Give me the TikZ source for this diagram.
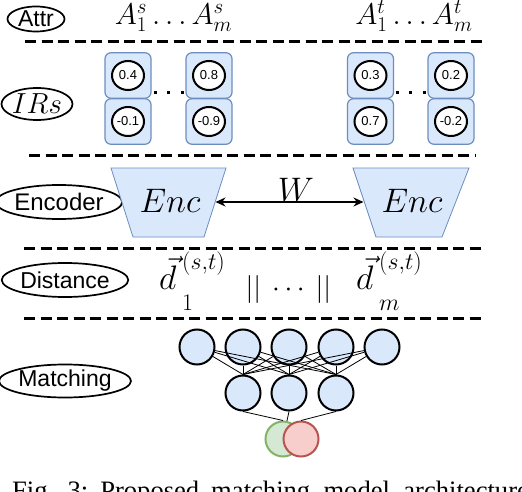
\documentclass[tikz,border=0pt]{standalone}
\usepackage{fix-cm}
\usepackage{fontspec}
\setsansfont{Liberation Sans}
\newfontfamily\capfont{Liberation Serif}
\usetikzlibrary{shapes.geometric,arrows.meta}
\definecolor{bluefill}{HTML}{DAE8FC}
\definecolor{bluedraw}{HTML}{6C8EBF}
\definecolor{greenfill}{HTML}{D5E8D4}
\definecolor{greendraw}{HTML}{82B366}
\definecolor{redfill}{HTML}{F8CECC}
\definecolor{reddraw}{HTML}{B85450}
\tikzset{
  lbl/.style={ellipse, draw, line width=1.7pt, inner sep=0pt,
    font=\sffamily\fontsize{23}{26}\selectfont},
  sepline/.style={line width=3pt, dash pattern=on 11pt off 5.5pt},
  irbox/.style={draw=bluedraw, fill=bluefill, rounded corners=6pt,
    line width=1.2pt, minimum width=46pt, minimum height=45.5pt, inner sep=0pt},
  ircirc/.style={ellipse, draw, fill=white, line width=2pt, minimum width=32pt,
    minimum height=29pt, inner sep=0pt, font=\sffamily\fontsize{13}{13}\selectfont},
  dotsline/.style={line width=3pt, dash pattern=on 3pt off 10.5pt},
  trap/.style={draw=bluedraw, fill=bluefill, line width=0.8pt},
  mathbig/.style={font=\fontsize{30}{34}\selectfont, inner sep=0pt},
  enctext/.style={font=\fontsize{34}{38}\selectfont, inner sep=0pt, anchor=base},
  disttext/.style={font=\fontsize{34}{38}\selectfont, inner sep=0pt, anchor=base west},
  neuron/.style={circle, draw, fill=bluefill, line width=2pt, minimum size=35pt, inner sep=0pt},
  outg/.style={circle, draw=greendraw, fill=greenfill, line width=2pt, minimum size=35pt, inner sep=0pt},
  outr/.style={circle, draw=reddraw, fill=redfill, line width=2pt, minimum size=35pt, inner sep=0pt},
  edge/.style={line width=0.8pt},
  dblarrow/.style={line width=1.5pt, {Stealth[length=10pt,width=9pt]}-{Stealth[length=10pt,width=9pt]}}
}
\newcommand{\lowsub}[1]{\raisebox{-13pt}{$\scriptstyle #1$}}
\newcommand{\highsup}[1]{\raisebox{-5pt}{$\scriptstyle #1$}}
\begin{document}
\begin{tikzpicture}[x=1pt,y=-1pt]
\useasboundingbox (0,0) rectangle (522,492);
\fill[white] (0,0) rectangle (522,492);

% left labels
\node[lbl, minimum width=57pt, minimum height=25pt] (attr) at (36,19) {Attr};
\node[lbl, minimum width=71pt, minimum height=32pt, font=\fontsize{29}{32}\selectfont] (irs) at (37,104) {$IRs$};
\node[lbl, minimum width=112pt, minimum height=34pt, font=\sffamily\fontsize{24}{26}\selectfont] (encl) at (59,202) {Encoder};
\node[lbl, minimum width=116pt, minimum height=34pt] (dist) at (65,280) {Distance};
\node[lbl, minimum width=116pt, minimum height=33pt] (match) at (65,381) {Matching};

% separator lines
\coordinate (s1a) at (25,42);  \coordinate (s1b) at (487,42);
\coordinate (s2a) at (29,156); \coordinate (s2b) at (475,156);
\coordinate (s3a) at (24,248); \coordinate (s3b) at (485,248);
\coordinate (s4a) at (24,318); \coordinate (s4b) at (485,318);
\draw[sepline] (s1a) -- (s1b);
\draw[sepline] (s2a) -- (s2b);
\draw[sepline] (s3a) -- (s3b);
\draw[sepline] (s4a) -- (s4b);

% attributes
\node[mathbig, anchor=base] (as) at (173.5,24.5) {$A_1^s\dots A_m^s$};
\node[mathbig, anchor=base] (at) at (414,24.5) {$A_1^t\dots A_m^t$};

% IR boxes
\foreach \n/\x/\a/\b in {c1/128/0.4/-0.1, c2/209/0.8/-0.9, c3/370.5/0.3/0.7, c4/451/0.2/-0.2}{
  \node[irbox] (\n u) at (\x,75.5) {};
  \node[irbox] (\n l) at (\x,121.5) {};
  \node[ircirc] (\n uc) at (\x,75.5) {\a};
  \node[ircirc] (\n lc) at (\x,121.5) {\b};
}
\coordinate (d1a) at (153.5,93); \coordinate (d1b) at (186,93);
\coordinate (d2a) at (395.5,93); \coordinate (d2b) at (428,93);
\draw[dotsline] (d1a) -- (d1b);
\draw[dotsline] (d2a) -- (d2b);

% encoders
\path[trap] (111,168) -- (226,168) -- (204,237) -- (133,237) -- cycle;
\path[trap] (353,168) -- (469,168) -- (442,237) -- (376,237) -- cycle;
\node[enctext] (encL) at (170,212) {$Enc$};
\node[enctext] (encR) at (412,212) {$Enc$};
\coordinate (encLe) at (215.5,202);
\coordinate (encRw) at (363.5,202);
\draw[dblarrow] (encLe) -- (encRw);
\node[enctext] (w) at (296,201) {$W$};

% distance
\node[disttext] (dv1) at (159,289) {${\vec{d}\mkern3mu}^{\highsup{(s,t)}}_{\lowsub{1}}$};
\node[font=\fontsize{28}{32}\selectfont, inner sep=0pt, anchor=base] (dsep) at (288.5,296) {$||\mkern4mu\cdots\mkern4mu||$};
\node[disttext] (dv2) at (356,289) {${\vec{d}\mkern3mu}^{\highsup{(s,t)}}_{\lowsub{m}}$};

% matching network
\foreach \i/\x in {1/197,2/243,3/289,4/336,5/382}{
  \node[neuron] (t\i) at (\x,347) {};
}
\foreach \j/\x in {1/243,2/289,3/336}{
  \node[neuron] (m\j) at (\x,393) {};
}
\foreach \i in {1,...,5}{
  \foreach \j in {1,2,3}{
    \draw[edge] (t\i) -- (m\j.north);
  }
}
\node[outg] (og) at (283,439) {};
\node[outr] (orr) at (301,439) {};
\draw[edge] (m1.south) -- (og.north);
\draw[edge] (m2.south) -- (og);
\draw[edge] (m3.south) -- (orr.north);

% caption (cut by the picture edge)
\node[font=\capfont\fontsize{26.6}{30}\selectfont, inner sep=0pt, anchor=base west] (cap) at (12,499)
  {Fig.\hspace{0.5em}3:\hspace{0.45em}Proposed\hspace{0.45em}matching\hspace{0.5em}model\hspace{0.5em}architecture.};
\end{tikzpicture}
\end{document}
